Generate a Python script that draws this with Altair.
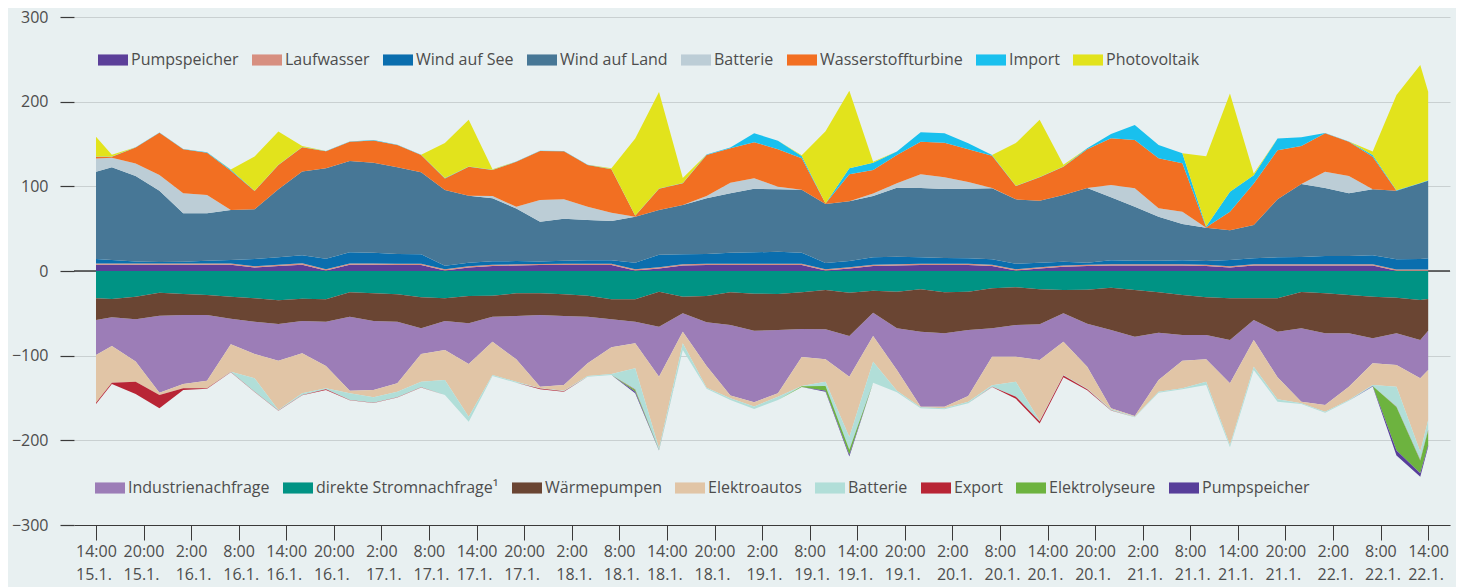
import altair as alt
import pandas as pd

# hours after 14:00 on 15.1.
T = [0, 2, 5, 8, 11, 14, 17, 20, 23, 26, 29, 32, 35, 38, 41, 44, 47, 50, 53, 56, 59, 62, 65, 68, 71, 74, 77, 80, 83,
     86, 89, 92, 95, 98, 101, 104, 107, 110, 113, 116, 119, 122, 125, 128, 131, 134, 137, 140, 143, 146, 149, 152,
     155, 158, 161, 164, 167, 168]

# ---- supply (positive) ----
pumpspeicher_pos = [7.5, 7.5, 7.5, 7.5, 7.5, 7.5, 7.5, 4, 6, 7.5, 0.5, 7.5, 7.5, 7,
                    7, 0.5, 4, 6, 6.5, 7, 7, 7, 7, 0.5, 3, 6.5, 7, 7, 7,
                    7, 7, 0.5, 3, 6, 6.5, 7, 7, 7, 6, 0.5, 3, 5, 6,
                    6.5, 6.5, 6.5, 6.5, 6, 4, 6.5, 6.5, 6.5, 6.5, 6.5, 6.5, 0.3, 0.3, 0.3]
laufwasser = [1.5, 1.5, 1.4, 1.4, 1.5, 1.5, 1.5, 1.5, 1.5, 1.6, 1.5, 1.5, 1.5, 1.5,
              1.5, 1.5, 1.5, 1.5, 1.4, 1.4, 1.5, 1.5, 1.5, 1.5, 1.5, 1.5, 1.5, 1.5, 1.5,
              1.5, 1.5, 1.5, 1.5, 1.5, 1.5, 1.5, 1.5, 1.5, 1.5, 1.5, 1.5, 1.5, 1.5,
              1.5, 1.5, 1.5, 1.5, 1.5, 1.5, 1.5, 1.5, 1.5, 1.5, 1.5, 1.5, 1.5, 1.5, 1.5]
wind_see = [5.2, 4, 2.4, 1.6, 2, 3.2, 4, 8.7, 8.6, 9.5, 12.6, 13, 12.7, 11.5,
            11.2, 4.3, 4.3, 3.9, 3.8, 2.9, 3.7, 4.1, 4.1, 7.8, 14.8, 11.7, 11.5, 13.2, 13.5,
            14.3, 13.2, 7.4, 7.3, 8.6, 8.9, 7.6, 6.9, 6.5, 6.3, 6.7, 5.3, 4.5, 2.3,
            4.6, 4.2, 4.2, 4.6, 4.3, 7.5, 7, 8.1, 8.5, 9.7, 9.7, 10.5, 12, 12.4, 13.2]
wind_land = [103.1, 109.4, 100.8, 84.3, 57.1, 55.9, 59, 58.6, 80.4, 98.8, 106.7, 108, 106.3, 102.4,
             96.8, 89.4, 79.2, 74.4, 62.2, 46.9, 49.6, 47.6, 46.5, 54.4, 52.7, 58.3, 65.8, 70, 75,
             73.7, 74.4, 69.7, 70.5, 72.5, 81.5, 81.9, 81.5, 82.2, 83.8, 75.9, 73.3, 78.8, 88.2,
             74.4, 63.8, 52, 42.9, 39.4, 35, 39.3, 68.5, 86.3, 80.3, 74, 78, 81.1, 89.3, 91.7]
batterie_pos = [15.7, 11.5, 14.8, 18.5, 23.6, 21.7, 0, 0, 0, 0, 0, 0, 0, 0,
                0, 0, 0, 2.8, 2, 25.6, 22.8, 15.8, 9.8, 0, 0, 0, 2.8, 12.6, 12.6,
                3.1, 0, 0, 0, 3, 5.1, 16.2, 13.7, 7.9, 0.4, 0, 0, 0, 0,
                14.6, 21.6, 9.8, 14.5, 0, 0, 0, 0, 0, 19.3, 20.5, 0, 0, 0, 0]
wasserstoff = [2, 1, 19, 50, 52, 50, 46.5, 21.7, 28.7, 28.7, 20, 22.8, 26, 26.4,
               20.5, 13.7, 34.2, 30.7, 53.1, 57.8, 56.7, 49.2, 51.2, 1, 25, 25.5, 48.4, 40.6, 42.6,
               44.1, 37, 0.5, 31.9, 27.7, 33.5, 38.6, 41, 38.6, 38.2, 15.8, 27.5, 33.4, 45.7,
               55.1, 57.1, 59.1, 57.2, 0.5, 22, 49, 58, 44.8, 45.3, 40.6, 38.5, 0, 0, 0]
import_ = [0.3, 0.3, 0.3, 0.3, 0.3, 0.5, 1, 0.3, 0.3, 0.5, 0.3, 0.3, 0.8, 0.3,
           0.3, 0.3, 0.3, 0.3, 0.3, 0.3, 0.5, 0.3, 0.3, 0.3, 0.3, 0.3, 0.5, 1, 10.6,
           10.2, 2.7, 0, 7.1, 8.7, 4, 11, 11, 7.1, 0.8, 0.3, 0.3, 0.3, 1.2,
           5.1, 17.7, 15.7, 11.8, 1, 23.7, 9.9, 13.8, 10.3, 0.5, 0.3, 2, 0.5, 0.5, 0.5]
photovoltaik = [23.4, 2, 0, 0, 0, 0, 0.5, 40.5, 39.4, 1, 0, 0, 0, 0,
                0, 41.4, 55.1, 0.5, 0, 0, 0, 0, 1, 91, 114, 6, 0, 0, 0,
                0, 1, 85.5, 91.7, 1, 0, 0, 0, 0, 0, 50.4, 67.7, 2, 0,
                0, 0, 0, 0, 82.8, 116, 2, 0, 0, 0, 0, 4, 112.5, 139.3, 104.6]

# ---- demand (negative, given as magnitudes) ----
direkte = [32.3, 33.1, 30.3, 25.6, 27.2, 28.3, 30.3, 32.3, 34.6, 32.7, 33.5, 25.2, 26.4, 27.6,
           31.1, 32.3, 29.5, 29.1, 26.4, 26.4, 27.6, 29.1, 33.5, 33.5, 24.4, 30.3, 29.5, 25.2, 26.8,
           27.2, 25.2, 22.4, 25.6, 23.2, 24.4, 21.7, 25.2, 24.4, 20.5, 19.3, 21.7, 22.4, 22,
           19.7, 22.4, 25.2, 28.3, 31.1, 32.3, 32.3, 32.3, 24.8, 26.4, 28.3, 30.3, 31.5, 34.3, 33.1]
waermepumpen = [25.6, 21.6, 26.8, 27.2, 24.8, 23.7, 26, 27.5, 28, 26.4, 26.3, 28.7, 32.7, 32.2,
                36.6, 26.8, 32.3, 24.8, 26.7, 25.6, 25.5, 24.8, 23.6, 26.3, 41.3, 19.7, 31.1, 38.6, 43.9,
                42.5, 43.3, 46.5, 51.2, 26, 43.3, 50, 48.4, 45.3, 47.2, 44.5, 41.3, 27.6, 40.4,
                50, 55.2, 47.6, 47.3, 44.5, 49.2, 25.6, 39.4, 42.9, 47.2, 45.3, 49.2, 42.1, 47.2, 37.4]
industrie = [41.3, 33.9, 49.9, 90.9, 81.5, 77.5, 30.3, 38.2, 43.3, 38.1, 52.4, 87.4, 81.5, 72.9,
             30.3, 34.2, 48, 29.6, 51.2, 84.6, 81.5, 55.1, 33.1, 25.6, 59.1, 21.7, 51.6, 83.1, 84.3,
             74.8, 33.1, 35.4, 48, 27.6, 49.2, 88.5, 86.6, 77.9, 33.5, 37.4, 42.1, 33.5, 50.6,
             92.5, 93.7, 55.9, 30.3, 28.7, 51.2, 23.6, 53.9, 86.6, 84.7, 63, 29.6, 37.4, 45.3, 46.4]
elektroautos = [56.3, 43.3, 23.7, 2.8, 5.1, 9.1, 32.3, 28.8, 58.3, 47.3, 26.4, 3.2, 8.6, 9.8,
                32.7, 35.4, 62.2, 39.3, 26.4, 2, 6.7, 15, 31.5, 29.6, 84.6, 13.7, 25.6, 3.5, 5,
                3.9, 34.2, 26.4, 71.2, 30.3, 24.4, 0.8, 2, 6.7, 33.8, 29.5, 71.7, 39.3, 26.2,
                1.2, 0.7, 13.8, 32.7, 26.4, 72.8, 31.5, 26, 2, 7.8, 15.8, 25.5, 25.6, 86.6, 59.1]
batterie_neg = [0, 0, 0, 0, 0, 0, 0.5, 15.7, 0.5, 2, 1, 7.9, 6.3, 6.7,
                6.7, 17.8, 6, 1.2, 1.2, 0.2, 0.7, 0.8, 1.1, 25, 2, 7.9, 1.2, 2, 3,
                4, 0.3, 5.1, 15, 24.8, 2, 1.2, 1.2, 2, 1.6, 17.7, 1, 0.5, 0.5,
                1.2, 0.8, 1.2, 1.2, 3.9, 2.8, 3.9, 2.7, 0.8, 1.2, 0.7, 1.2, 23.6, 9.8, 11.8]
export = [1.6, 1.5, 14.6, 15.7, 2, 0.5, 0.3, 0.3, 0.3, 0.3, 1, 0.3, 0.3, 0.3,
          0.3, 0, 0, 0, 0, 1, 0.5, 0, 0, 0.5, 0, 0, 0, 0, 0,
          0, 0, 0, 0, 0, 0, 0, 0, 0, 0.5, 2.6, 2.2, 2.3, 1,
          0.3, 0, 0, 0, 0, 0, 0, 0, 0, 0, 0, 0, 0.5, 0.5, 0.5]
elektrolyseure = [0, 0, 0, 0, 0, 0, 0, 0, 0, 0, 0, 0, 0, 0,
                  0, 0, 0, 0, 0, 0, 0, 0, 0, 2, 0.3, 0, 0, 0, 0,
                  0, 0.8, 5.5, 6, 0, 0, 0, 0, 0, 0, 0, 0, 0, 0,
                  0, 0, 0, 0, 0, 0, 0, 0, 0, 0, 0, 0, 51.2, 15.3, 17.2]
pumpspeicher_neg = [0, 0, 0, 0, 0, 0, 0, 0, 0, 0, 0, 0, 0, 0,
                    0, 0, 0, 0, 0, 0, 0, 0, 0, 2, 0.3, 0, 0, 0, 0,
                    0, 0, 1.2, 2, 0, 0, 0, 0, 0, 0, 0, 0, 0, 0,
                    0, 0, 0, 0, 0, 0, 0, 0, 0, 0, 0, 0.5, 5.9, 3.9, 2]

pos_names = ["Pumpspeicher", "Laufwasser", "Wind auf See", "Wind auf Land", "Batterie",
             "Wasserstoffturbine", "Import", "Photovoltaik"]
pos_colors = ["#5b3f99", "#d78f80", "#0a6eae", "#477796", "#bccdd6", "#f26f22", "#19c0ee", "#e2e31c"]
pos_series = [pumpspeicher_pos, laufwasser, wind_see, wind_land, batterie_pos, wasserstoff, import_, photovoltaik]

neg_names = ["Industrienachfrage", "direkte Stromnachfrage\u00b9", "Wärmepumpen", "Elektroautos", "Batterie",
             "Export", "Elektrolyseure", "Pumpspeicher"]
neg_colors = ["#9c7db7", "#009384", "#6a4533", "#e1c5a6", "#b1ded8", "#b82535", "#6db33f", "#573e9a"]
neg_series = [industrie, direkte, waermepumpen, elektroautos, batterie_neg, export, elektrolyseure, pumpspeicher_neg]
neg_stack_order = [2, 0, 1, 3, 4, 5, 6, 7]  # direkte nearest zero, then Wärmepumpen, Industrie, ...

rows_pos = []
for k, (name, vals) in enumerate(zip(pos_names, pos_series)):
    for tt, v in zip(T, vals):
        rows_pos.append({"t": tt, "serie": name, "v": v, "o": k})
rows_neg = []
for k, (name, vals) in enumerate(zip(neg_names, neg_series)):
    for tt, v in zip(T, vals):
        # keep zero entries strictly negative so they stay in the downward stack
        rows_neg.append({"t": tt, "serie": name, "v": -(v if v > 0 else 1e-6), "o": neg_stack_order[k]})
df_pos = pd.DataFrame(rows_pos)
df_neg = pd.DataFrame(rows_neg)

FONT = "Open Sans"
TXT = "#4d4d4d"
DARK = "#3a3a3a"

x_enc = alt.X(
    "t:Q",
    scale=alt.Scale(domain=[-2.775, 170.75], nice=False, zero=False),
    axis=alt.Axis(
        values=list(range(0, 169, 6)),
        labelExpr="[((datum.value+14)%24)+':00', (15+floor((datum.value+14)/24))+'.1.']",
        title=None, grid=False, domain=True, domainColor=DARK, domainWidth=1.2,
        tickColor=DARK, tickSize=15, tickWidth=1,
        labelFont=FONT, labelFontSize=16, labelColor=TXT, labelPadding=3, labelLineHeight=23,
        labelAlign="left", labelFlush=False, labelOverlap=False, labelBound=False,
        labelOffset={"condition": {"test": "(datum.value % 24) < 12", "value": -20.5}, "value": -16},
    ),
)
y_enc_args = dict(
    scale=alt.Scale(domain=[-300, 300], nice=False),
    axis=alt.Axis(
        values=[-300, -200, -100, 0, 100, 200, 300], title=None, domain=False,
        grid=True, gridColor="#c9d0d1", gridWidth=1,
        tickColor=DARK, tickSize=14, tickWidth=1.2,
        labelFont=FONT, labelFontSize=16, labelColor=TXT, labelPadding=12,
    ),
)

legend_common = dict(
    orient="none", direction="horizontal", columns=8, title=None,
    labelFont=FONT, labelFontSize=16, labelColor=TXT, labelLimit=400,
    symbolType="M-1,-0.37L1,-0.37L1,0.37L-1,0.37Z", symbolSize=900,
    symbolStrokeWidth=0, symbolOpacity=1, labelOffset=3, columnPadding=13, padding=0,
)

zero_rule = alt.Chart(pd.DataFrame({"v": [0]})).mark_rule(color=DARK, strokeWidth=1.3).encode(
    y=alt.Y("v:Q", **y_enc_args)
)

pos_chart = alt.Chart(df_pos).mark_area(interpolate="linear").encode(
    x=x_enc,
    y=alt.Y("v:Q", stack="zero", **y_enc_args),
    color=alt.Color("serie:N", scale=alt.Scale(domain=pos_names, range=pos_colors),
                    legend=alt.Legend(legendX=24, legendY=28, **legend_common)),
    order=alt.Order("o:Q", sort="ascending"),
)

neg_chart = alt.Chart(df_neg).mark_area(interpolate="linear").encode(
    x=x_enc,
    y=alt.Y("v:Q", stack="zero", **y_enc_args),
    color=alt.Color("serie:N", scale=alt.Scale(domain=neg_names, range=neg_colors),
                    legend=alt.Legend(legendX=21, legendY=456, **legend_common)),
    order=alt.Order("o:Q", sort="ascending"),
)

chart = alt.layer(zero_rule, pos_chart, neg_chart).resolve_scale(color="independent").properties(
    width=1376, height=508,
    padding={"left": 66, "top": 9, "right": 6, "bottom": 62},
    autosize=alt.AutoSizeParams(type="none"),
    background="#e8f0f1",
).configure_view(stroke=None)

chart.save("out.html", embed_options={"renderer": "svg", "actions": False})
